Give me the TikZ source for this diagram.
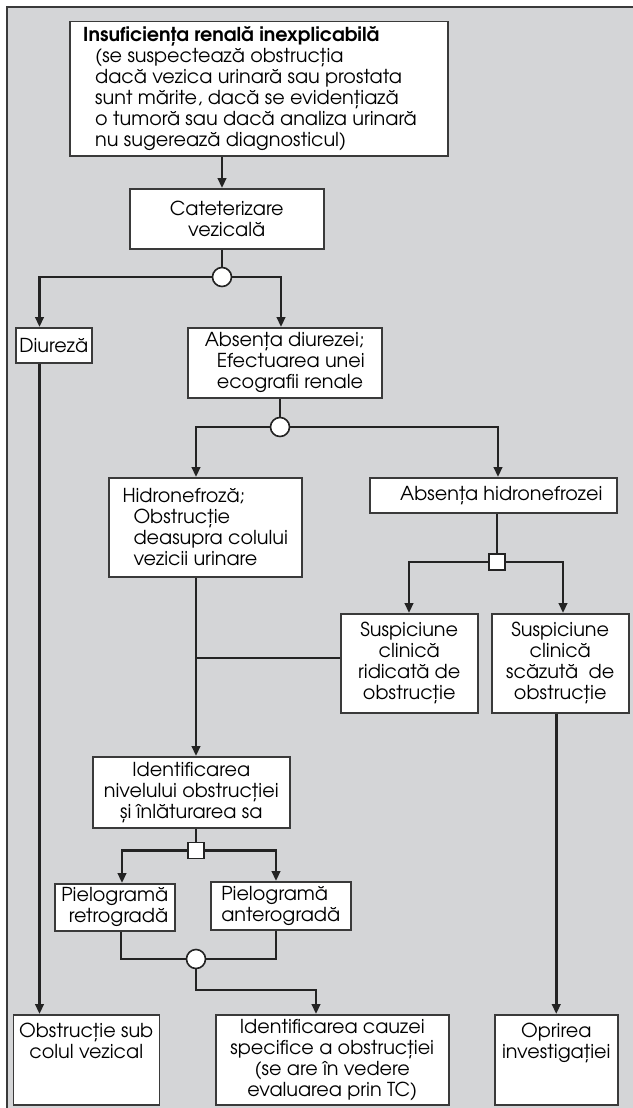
\documentclass[tikz,border=0pt]{standalone}
\usepackage{fontspec}
\setmainfont{TeX Gyre Adventor}
\usetikzlibrary{arrows.meta}
\definecolor{panel}{HTML}{D4D5D7}
\definecolor{ink}{HTML}{232323}
\definecolor{frame}{HTML}{3A3A3A}
\begin{document}
\begin{tikzpicture}[x=1pt,y=-1pt,
  txt/.style={font=\fontsize{19.2}{21}\selectfont, inner sep=0pt},
  box/.style={txt, draw=frame, line width=1.5pt, fill=white, anchor=north west},
  link/.style={draw=ink, line width=2.8pt},
  arr/.style={link, -{Triangle[length=10pt,width=8.5pt]}},
  knot/.style={circle, draw=ink, line width=1.6pt, fill=white, minimum size=19pt, inner sep=0pt},
  gate/.style={rectangle, draw=ink, line width=1.6pt, fill=white, minimum size=16pt, inner sep=0pt},
]
\useasboundingbox (0,0) rectangle (632,1108);
% grey panel behind the chart
\fill[panel] (7,7) rectangle (640,1115);
\draw[frame, line width=1.2pt] (7,1115) -- (7,7) -- (640,7);

% boxes
\node[box, minimum width=378pt, minimum height=134pt] (top) at (69,21) {};
\node[txt, anchor=west, align=left] (topt) at (83,88.5)
  {\textbf{Insuficiența renală inexplicabilă}\\
   \hspace*{12pt}(se suspectează obstrucția\\
   \hspace*{12pt}dacă vezica urinară sau prostata\\
   \hspace*{12pt}sunt mărite, dacă se evidențiază\\
   \hspace*{12pt}o tumoră sau dacă analiza urinară\\
   \hspace*{12pt}nu sugerează diagnosticul)};
\node[box, minimum width=194pt, minimum height=60pt, align=center] (cat) at (129,188) {Cateterizare\\vezicală};
\node[box, minimum width=76pt, minimum height=35pt] (diur) at (15,327) {Diureză};
\node[box, minimum width=194pt, minimum height=70pt, align=left] (absd) at (187,327)
  {Absența diurezei;\\\hspace*{12pt}Efectuarea unei\\\hspace*{12pt}ecografii renale};
\node[box, minimum width=193pt, minimum height=99pt, align=left] (hid) at (108,477)
  {Hidronefroză;\\\hspace*{11pt}Obstrucție\\\hspace*{11pt}deasupra colului\\\hspace*{11pt}vezicii urinare};
\node[box, minimum width=247pt, minimum height=35pt] (absh) at (369,477) {\hspace*{16pt}Absența hidronefrozei};
\node[box, minimum width=137pt, minimum height=99pt, align=center] (ridic) at (340,613)
  {Suspiciune\\clinică\\ridicată de\\obstrucție};
\node[box, minimum width=137pt, minimum height=99pt, align=center] (scaz) at (491,613)
  {Suspiciune\\clinică\\scăzută~ de\\obstrucție};
\node[box, minimum width=197pt, minimum height=71pt, align=center] (ident) at (92,756)
  {Identificarea\\nivelului obstrucției\\și înlăturarea sa};
\node[box, minimum width=120pt, minimum height=47pt, align=right] (pr) at (54,883) {Pielogramă\\retrogradă};
\node[box, minimum width=140pt, minimum height=48pt, align=left] (pa) at (210,881) {Pielogramă\\anterogradă};
\node[box, minimum width=146pt, minimum height=90pt] (obs) at (12.5,1014) {};
\node[txt, anchor=north, align=center] (obst) at (obs.north |- 0,1023) {Obstrucție sub\\colul vezical};
\node[box, minimum width=233pt, minimum height=90pt, align=center] (cauz) at (215,1014)
  {Identificarea cauzei\\specifice a obstrucției\\(se are în vedere\\evaluarea prin TC)};
\node[box, minimum width=123pt, minimum height=90pt] (opr) at (494,1014) {};
\node[txt, anchor=north, align=center] (oprt) at (opr.north |- 0,1023) {Oprirea\\investigației};

% junctions
\node[knot] (j1) at (222,277) {};
\node[knot] (j2) at (280,427) {};
\node[gate] (s1) at (497,562) {};
\node[gate] (s2) at (196,850.5) {};
\node[knot] (j4) at (196,959) {};

% rails that the connectors follow
\coordinate (railL) at (39.5,0);
\coordinate (railA) at (281,0);
\coordinate (railH) at (196,0);
\coordinate (railN) at (498,0);
\coordinate (railR) at (409,0);
\coordinate (railS) at (563,0);
\coordinate (railP) at (122,0);
\coordinate (railQ) at (276,0);
\coordinate (railC) at (316,0);
\coordinate (meet) at (196,658);
\coordinate (bend) at (196,990);

% connectors
\draw[arr] (top.south -| j1) -- (cat.north -| j1);
\draw[link] (cat.south -| j1) -- (j1);
\draw[arr] (j1) -| (diur.north -| railL);
\draw[arr] (j1) -| (absd.north -| railA);
\draw[arr] (diur.south -| railL) -- (obs.north -| railL);
\draw[link] (absd.south -| j2) -- (j2);
\draw[arr] (j2) -| (hid.north -| railH);
\draw[arr] (j2) -| (absh.north -| railN);
\draw[link] (absh.south -| s1) -- (s1);
\draw[arr] (s1) -| (ridic.north -| railR);
\draw[arr] (s1) -| (scaz.north -| railS);
\draw[arr] (hid.south -| railH) -- (ident.north -| railH);
\draw[link] (ridic.west |- meet) -- (meet);
\draw[arr] (scaz.south -| opr) -- (opr.north);
\draw[link] (ident.south -| s2) -- (s2);
\draw[arr] (s2) -| (pr.north -| railP);
\draw[arr] (s2) -| (pa.north -| railQ);
\draw[link] (pr.south -| 121,0) |- (j4);
\draw[link] (pa.south -| railQ) |- (j4);
\draw[arr] (j4) -- (bend) -| (cauz.north -| railC);
\end{tikzpicture}
\end{document}
